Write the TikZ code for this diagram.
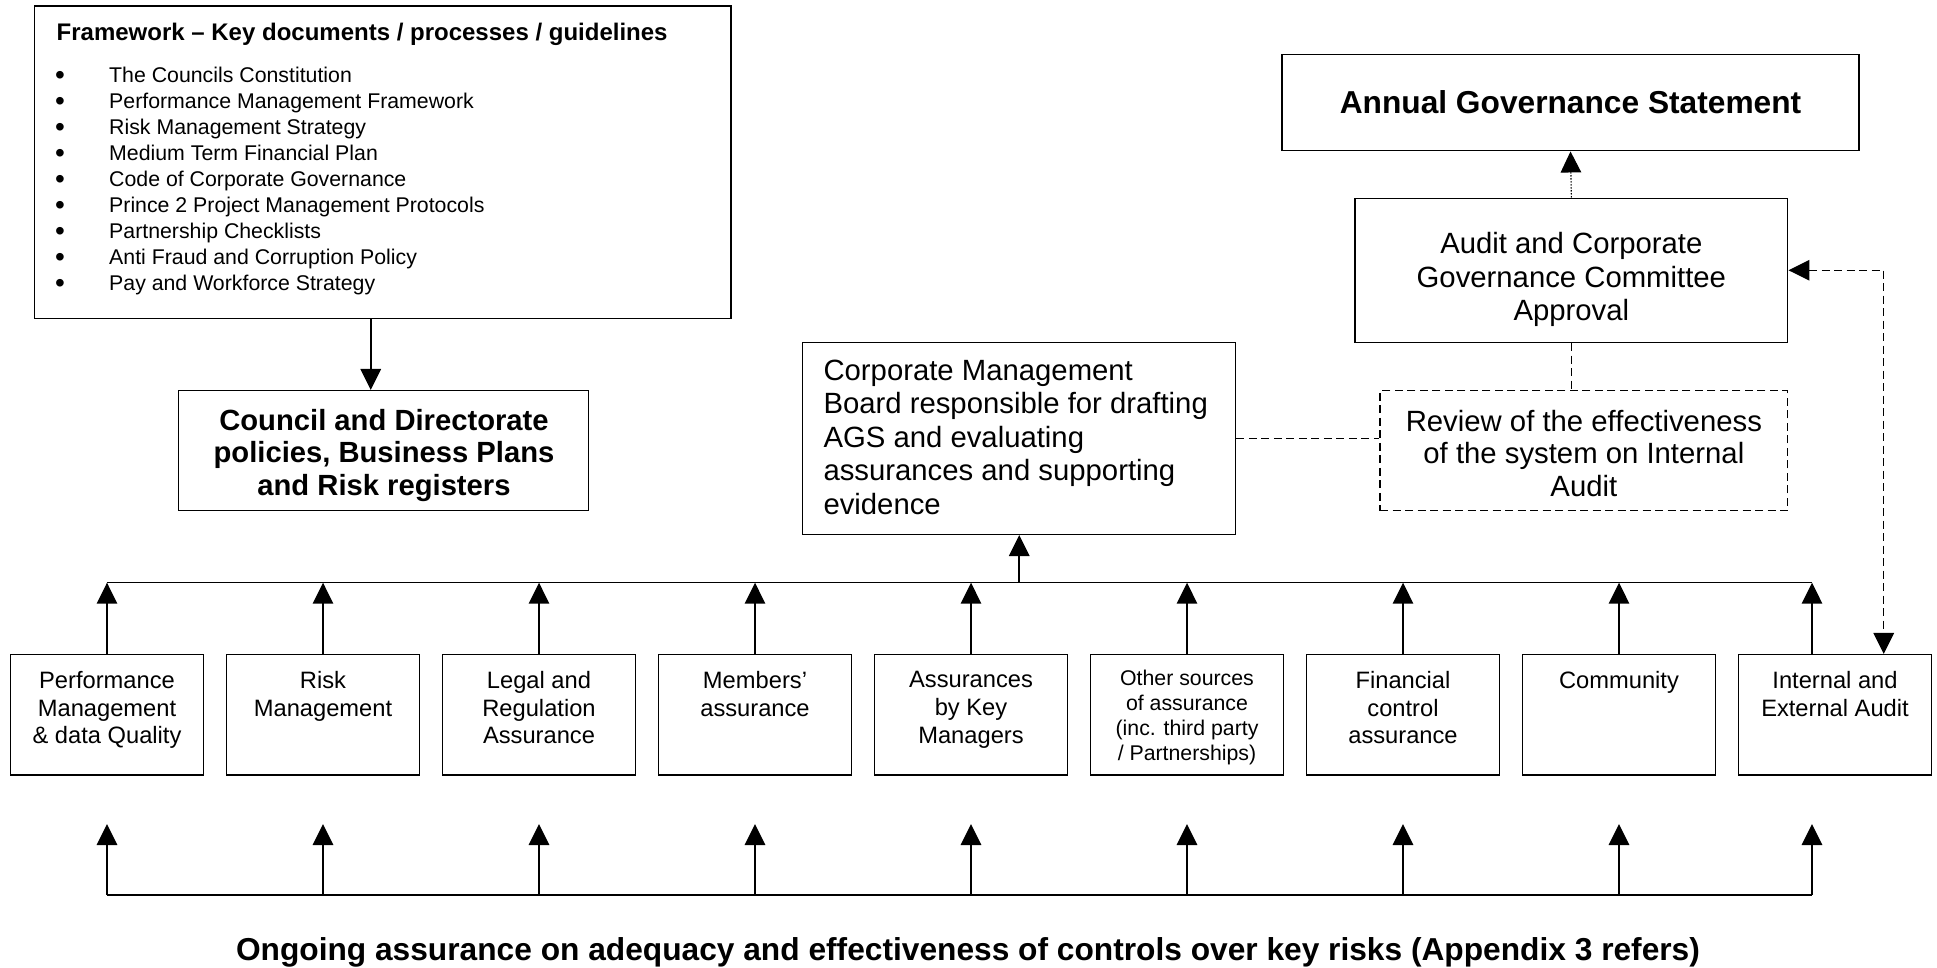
\documentclass[tikz,border=0pt]{standalone}
\usepackage{fontspec}
\setmainfont{Liberation Sans}
\usetikzlibrary{arrows.meta,calc}
\begin{document}
\begin{tikzpicture}[x=1pt,y=-1pt,
  box/.style={draw, line width=1.5pt, inner sep=0pt},
  arr/.style={line width=1.5pt, -{Triangle[length=21pt,width=20.5pt]}},
  dsh/.style={line width=1.5pt, dash pattern=on 8pt off 4.5pt},
  itm/.style={font=\fontsize{21.3}{26}\selectfont, inner sep=0pt, anchor=base west},
  bul/.style={font=\fontsize{28}{30}\selectfont, inner sep=0pt, anchor=base west},
  ttl/.style={font=\fontsize{24}{28}\selectfont\bfseries, inner sep=0pt, anchor=base west},
  midtxt/.style={font=\fontsize{29.3}{33.6}\selectfont, inner sep=0pt},
  bigb/.style={font=\fontsize{29.2}{32.5}\selectfont\bfseries, inner sep=0pt},
  hugeb/.style={font=\fontsize{31.7}{36}\selectfont\bfseries, inner sep=0pt},
  smtxt/.style={font=\fontsize{23.7}{27.8}\selectfont, inner sep=0pt, anchor=north, align=center},
  tinytxt/.style={font=\fontsize{21.3}{25}\selectfont, inner sep=0pt, anchor=north, align=center},
  lowbox/.style={box, minimum width=192.7pt, minimum height=120.3pt}
]
\useasboundingbox (0,0) rectangle (1937,967);

% Framework box
\node[box, minimum width=696.5pt, minimum height=312.5pt] (fw) at (382.75,162.25) {};
\node[ttl] (fwt) at (56.5,40) {Framework – Key documents / processes / guidelines};
\foreach \t [count=\i] in {The Councils Constitution, Performance Management Framework, Risk Management Strategy, Medium Term Financial Plan, Code of Corporate Governance, Prince 2 Project Management Protocols, Partnership Checklists, Anti Fraud and Corruption Policy, Pay and Workforce Strategy} {
  \node[bul] (fwb\i) at (54.9,{59.0+25.96*\i}) {•};
  \node[itm] (fwi\i) at (109,{56.54+25.96*\i}) {\t};
}

% Council box
\node[box, minimum width=410pt, minimum height=120pt] (council) at (383.3,450.7) {};
\node[bigb, anchor=north, align=center] (councilt) at (384,408.9) {Council and Directorate\\policies, Business Plans\\and Risk registers};

% AGS
\node[box, hugeb, minimum width=577pt, minimum height=96.3pt] (ags) at (1570.5,102.55) {Annual Governance Statement};

% Audit committee
\node[box, minimum width=432.7pt, minimum height=144pt] (audit) at (1571.35,270.25) {};
\node[midtxt, anchor=north, align=center] (auditt) at (1571.35,232.1) {Audit and Corporate\\Governance Committee\\Approval};

% Review box
\node[box, dsh, minimum width=407.7pt, minimum height=120pt] (review) at (1583.85,450.7) {};
\node[midtxt, font=\fontsize{29.3}{32.7}\selectfont, anchor=north, align=center] (reviewt) at (1583.85,409.8) {Review of the effectiveness\\of the system on Internal\\Audit};

% CMB
\node[box, minimum width=433pt, minimum height=191.6pt] (cmb) at (1019.2,438.5) {};
\node[midtxt, anchor=north west, align=left] (cmbt) at (823.3,359.4) {Corporate Management\\Board responsible for drafting\\AGS and evaluating\\assurances and supporting\\evidence};

% Bottom boxes
\foreach \i in {0,...,8} {
  \node[lowbox] (b\i) at ({107+216*\i},714.85) {};
}
\node[smtxt] (t0) at (b0.north |- 0,671) {Performance\\Management\\\& data Quality};
\node[smtxt] (t1) at (b1.north |- 0,671) {Risk\\Management};
\node[smtxt] (t2) at (b2.north |- 0,671) {Legal and\\Regulation\\Assurance};
\node[smtxt] (t3) at (b3.north |- 0,671) {Members’\\assurance};
\node[smtxt] (t4) at (b4.north |- 0,671) {Assurances\\by Key\\Managers};
\node[tinytxt] (t5) at (b5.north |- 0,670.3) {Other sources\\of assurance\\(inc. third party\\/ Partnerships)};
\node[smtxt] (t6) at (b6.north |- 0,671) {Financial\\control\\assurance};
\node[smtxt] (t7) at (b7.north |- 0,671) {Community};
\node[smtxt] (t8) at (b8.north |- 0,671) {Internal and\\External Audit};

% Footer text
\node[hugeb, anchor=base] (foot) at (968,960.5) {Ongoing assurance on adequacy and effectiveness of controls over key risks (Appendix 3 refers)};

% Connectors
\draw[arr] ([xshift=-12pt]fw.south) -- ([xshift=-12pt]fw.south |- council.north);

\coordinate (busL) at (107,582.7);
\coordinate (busR) at (1812,582.7);
\draw[line width=1.5pt] (busL) -- (busR);
\foreach \i in {0,...,7} {
  \draw[arr] (b\i.north) -- (b\i.north |- busL);
}
\draw[arr] ([xshift=-23pt]b8.north) -- ([xshift=-23pt]b8.north |- busR);
\draw[arr] (cmb.south |- busL) -- (cmb.south);

\coordinate (botL) at (107,895);
\coordinate (botR) at (1812,895);
\draw[line width=2pt] (botL) -- (botR);
\foreach \i in {0,...,7} {
  \draw[arr] (b\i.south |- botL) -- ([yshift=-48.3pt]b\i.south);
}
\draw[arr] ([xshift=-23pt]b8.south |- botR) -- ([xshift=-23pt,yshift=-48.3pt]b8.south);

\draw[arr, line width=1.1pt, dash pattern=on 1.5pt off 1.5pt] (audit.north) -- (ags.south);
\draw[dsh] (audit.south) -- (audit.south |- review.north);
\draw[dsh] (cmb.east) -- (cmb.east -| review.west);
\draw[dsh, {Triangle[length=21pt,width=20.5pt]}-{Triangle[length=21pt,width=20.5pt]}] (audit.east) -| ([xshift=48.7pt]b8.north);
\end{tikzpicture}
\end{document}
